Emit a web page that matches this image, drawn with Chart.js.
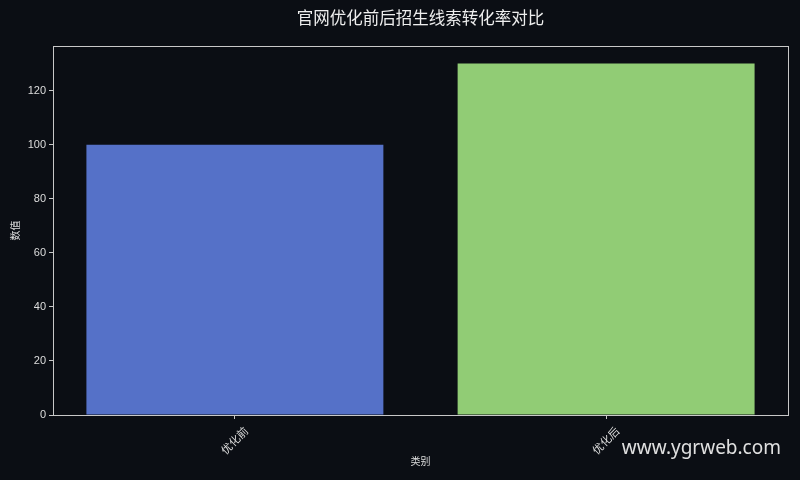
<!DOCTYPE html>
<html>
<head>
<meta charset="utf-8">
<script src="https://cdn.jsdelivr.net/npm/chart.js@4"></script>
<style>
  html, body { margin: 0; padding: 0; background: #0b0e14; }
  #wrap { width: 800px; height: 480px; }
</style>
</head>
<body>
<div id="wrap"><canvas id="myChart" width="800" height="480"></canvas></div>
<script>
// Chart data
const categories = ['优化前', '优化后'];
const values = [100, 130];
const barColors = ['#5571c8', '#91cc75'];
const yTicks = [0, 20, 40, 60, 80, 100, 120];

const FONT = '"Liberation Sans", "Noto Sans CJK SC", sans-serif';

// background, axes box, title and watermark
const decor = {
    id: 'decor',
    beforeDraw(chart) {
        const c = chart.ctx;
        c.save();
        c.fillStyle = '#0b0e14';
        c.fillRect(0, 0, chart.width, chart.height);
        c.restore();
    },
    afterDraw(chart) {
        const c = chart.ctx;
        const a = chart.chartArea;
        c.save();
        c.strokeStyle = '#c8c8c8';
        c.lineWidth = 1;
        c.strokeRect(a.left + 0.5, a.top + 0.5, a.right - a.left, a.bottom - a.top);

        c.fillStyle = '#eeeeee';
        c.font = '16.5px "Noto Sans CJK SC", sans-serif';
        c.textAlign = 'center';
        c.textBaseline = 'middle';
        c.fillText('官网优化前后招生线索转化率对比', (a.left + a.right) / 2, 18);

        c.fillStyle = '#e0e0e0';
        c.font = '19px "Noto Sans", sans-serif';
        c.textAlign = 'right';
        c.fillText('www.ygrweb.com', 781, 449);
        c.restore();
    }
};

// each bar sits at its category index on the x axis
const points = values.map((v, i) => ({ x: i, y: v }));

const ctx = document.getElementById('myChart').getContext('2d');
new Chart(ctx, {
    type: 'bar',
    data: {
        datasets: [{
            data: points,
            backgroundColor: barColors,
            borderWidth: 0,
            barPercentage: 0.8,
            categoryPercentage: 1.0
        }]
    },
    options: {
        responsive: false,
        animation: false,
        devicePixelRatio: 1,
        layout: { padding: { top: 46, right: 12, left: 0, bottom: 0 } },
        plugins: {
            legend: { display: false },
            title: { display: false },
            tooltip: { enabled: false }
        },
        scales: {
            x: {
                type: 'linear',
                offset: false,
                min: -0.49,
                max: 1.49,
                grid: { display: true, drawOnChartArea: false, offset: false, color: '#c8c8c8', tickLength: 4 },
                border: { display: false },
                afterBuildTicks(scale) {
                    scale.ticks = categories.map((c, i) => ({ value: i }));
                },
                ticks: {
                    color: '#dddddd',
                    font: { family: FONT, size: 11 },
                    minRotation: 45,
                    maxRotation: 45,
                    padding: 6,
                    labelOffset: 12,
                    callback: (v) => categories[v]
                },
                title: {
                    display: true,
                    text: '类别',
                    color: '#dddddd',
                    font: { family: FONT, size: 10 },
                    padding: { top: 0, bottom: 12 }
                },
                afterFit(scale) { scale.height = 65; }
            },
            y: {
                min: 0,
                max: 136.5,
                grid: { display: true, drawOnChartArea: false, color: '#c8c8c8', tickLength: 4 },
                border: { display: false },
                ticks: {
                    color: '#dddddd',
                    font: { family: FONT, size: 11 },
                    padding: 3
                },
                afterBuildTicks(scale) {
                    scale.ticks = yTicks.map(v => ({ value: v }));
                },
                title: {
                    display: true,
                    text: '数值',
                    color: '#dddddd',
                    font: { family: FONT, size: 10 },
                    padding: { top: 10, bottom: 0 }
                },
                afterFit(scale) { scale.width = 53; }
            }
        }
    },
    plugins: [decor]
});
</script>
</body>
</html>
